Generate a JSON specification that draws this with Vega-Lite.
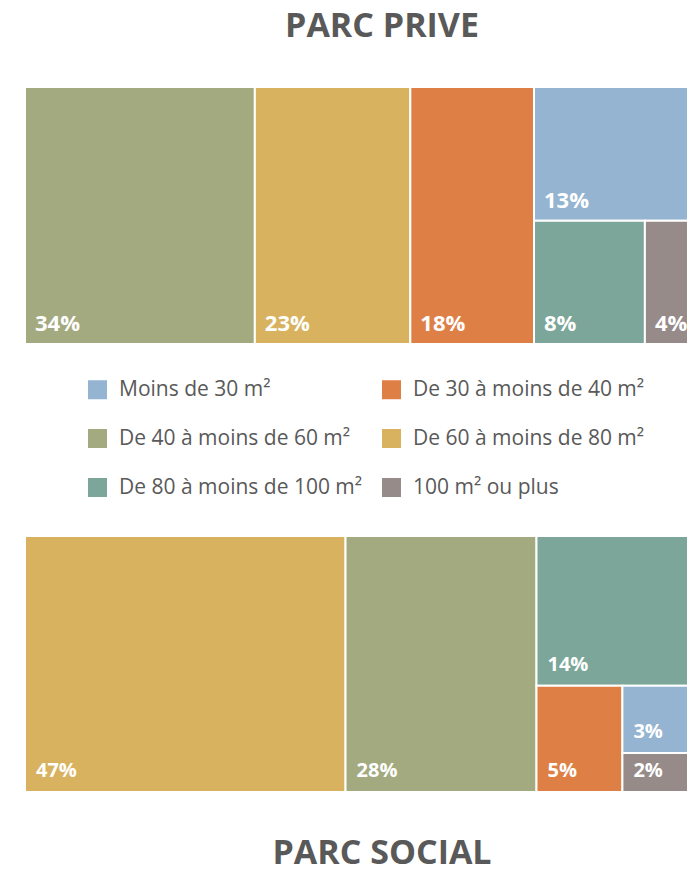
{
  "$schema": "https://vega.github.io/schema/vega-lite/v6.json",
  "background": "white",
  "padding": {"left": 25, "top": 10, "right": 0, "bottom": 0},
  "config": {"view": {"stroke": null}, "font": "Open Sans"},
  "datasets": {
    "cells": [
      {"parc": "prive", "cat": "De 40 à moins de 60 m²", "label": "34%", "x0": 0, "x1": 34, "y0": 0, "y1": 100},
      {"parc": "prive", "cat": "De 60 à moins de 80 m²", "label": "23%", "x0": 34, "x1": 57, "y0": 0, "y1": 100},
      {"parc": "prive", "cat": "De 30 à moins de 40 m²", "label": "18%", "x0": 57, "x1": 75.3, "y0": 0, "y1": 100},
      {"parc": "prive", "cat": "Moins de 30 m²", "label": "13%", "x0": 75.3, "x1": 100, "y0": 0, "y1": 52},
      {"parc": "prive", "cat": "De 80 à moins de 100 m²", "label": "8%", "x0": 75.3, "x1": 91.7, "y0": 52, "y1": 100},
      {"parc": "prive", "cat": "100 m² ou plus", "label": "4%", "x0": 91.7, "x1": 100, "y0": 52, "y1": 100},
      {"parc": "social", "cat": "De 60 à moins de 80 m²", "label": "47%", "x0": 0, "x1": 47, "y0": 0, "y1": 100},
      {"parc": "social", "cat": "De 40 à moins de 60 m²", "label": "28%", "x0": 47, "x1": 75, "y0": 0, "y1": 100},
      {"parc": "social", "cat": "De 80 à moins de 100 m²", "label": "14%", "x0": 75, "x1": 100, "y0": 0, "y1": 58.5},
      {"parc": "social", "cat": "De 30 à moins de 40 m²", "label": "5%", "x0": 75, "x1": 87.6, "y0": 58.5, "y1": 100},
      {"parc": "social", "cat": "Moins de 30 m²", "label": "3%", "x0": 87.6, "x1": 100, "y0": 58.5, "y1": 84.8},
      {"parc": "social", "cat": "100 m² ou plus", "label": "2%", "x0": 87.6, "x1": 100, "y0": 84.8, "y1": 100}
    ]
  },
  "resolve": {"scale": {"x": "independent", "color": "independent"}, "legend": {"color": "independent"}},
  "spacing": 38,
  "vconcat": [
    {
      "title": {"text": "PARC PRIVE", "fontSize": 34, "fontWeight": "bold", "color": "#595959", "dx": 26, "offset": 43, "baseline": "top"},
      "width": 662,
      "height": 257,
      "data": {"name": "cells"},
      "transform": [{"filter": "datum.parc == 'prive'"}],
      "encoding": {
        "x": {"field": "x0", "type": "quantitative", "scale": {"domain": [0, 97.93], "nice": false, "zero": false}, "axis": null}
      },
      "layer": [
        {
          "mark": {"type": "rect", "stroke": "white", "strokeWidth": 2, "clip": true},
          "encoding": {
            "x2": {"field": "x1"},
            "y": {"field": "y0", "type": "quantitative", "scale": {"domain": [0, 100], "reverse": true, "nice": false}, "axis": null},
            "y2": {"field": "y1"},
            "color": {
              "field": "cat", "type": "nominal",
              "scale": {
                "domain": ["Moins de 30 m²", "De 30 à moins de 40 m²", "De 40 à moins de 60 m²", "De 60 à moins de 80 m²", "De 80 à moins de 100 m²", "100 m² ou plus"],
                "range": ["#94B4D1", "#DE7F46", "#A3AA7F", "#D8B25E", "#7BA699", "#978B8A"]
              },
              "legend": {
                "title": null, "orient": "none", "legendX": 62, "legendY": 292, "columns": 2,
                "values": ["Moins de 30 m²", "De 40 à moins de 60 m²", "De 80 à moins de 100 m²", "De 30 à moins de 40 m²", "De 60 à moins de 80 m²", "100 m² ou plus"],
                "symbolType": "square", "symbolSize": 361, "symbolStrokeWidth": 0, "symbolOpacity": 1,
                "labelFontSize": 21, "labelColor": "#595959", "labelFont": "Open Sans", "labelOffset": 11,
                "rowPadding": 27, "columnPadding": 18, "padding": 0, "labelLimit": 400
              }
            }
          }
        },
        {
          "mark": {"type": "text", "color": "white", "fontSize": 22, "fontWeight": "bold", "align": "left", "baseline": "alphabetic", "dx": 10, "dy": -13, "clip": true},
          "encoding": {
            "y": {"field": "y1", "type": "quantitative"},
            "text": {"field": "label", "type": "nominal"}
          }
        }
      ]
    },
    {
      "title": {"text": "PARC SOCIAL", "orient": "bottom", "fontSize": 34, "fontWeight": "bold", "color": "#595959", "dx": 26, "offset": 45, "baseline": "top"},
      "width": 662,
      "height": 256,
      "data": {"name": "cells"},
      "transform": [{"filter": "datum.parc == 'social'"}],
      "encoding": {
        "x": {"field": "x0", "type": "quantitative", "scale": {"domain": [0, 97.07], "nice": false, "zero": false}, "axis": null}
      },
      "layer": [
        {
          "mark": {"type": "rect", "stroke": "white", "strokeWidth": 2, "clip": true},
          "encoding": {
            "x2": {"field": "x1"},
            "y": {"field": "y0", "type": "quantitative", "scale": {"domain": [0, 100], "reverse": true, "nice": false}, "axis": null},
            "y2": {"field": "y1"},
            "color": {
              "field": "cat", "type": "nominal",
              "scale": {
                "domain": ["Moins de 30 m²", "De 30 à moins de 40 m²", "De 40 à moins de 60 m²", "De 60 à moins de 80 m²", "De 80 à moins de 100 m²", "100 m² ou plus"],
                "range": ["#94B4D1", "#DE7F46", "#A3AA7F", "#D8B25E", "#7BA699", "#978B8A"]
              },
              "legend": null
            }
          }
        },
        {
          "mark": {"type": "text", "color": "white", "fontSize": 20, "fontWeight": "bold", "align": "left", "baseline": "alphabetic", "dx": 11, "dy": -15, "clip": true},
          "encoding": {
            "y": {"field": "y1", "type": "quantitative"},
            "text": {"field": "label", "type": "nominal"}
          }
        }
      ]
    }
  ]
}
